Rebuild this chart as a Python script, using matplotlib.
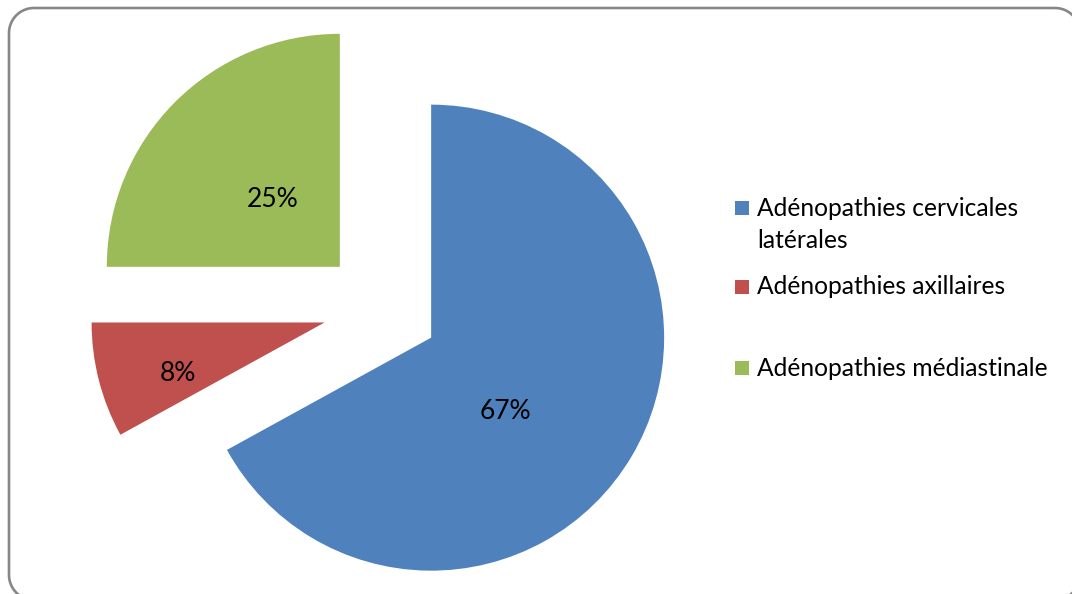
import matplotlib
matplotlib.use("Agg")
import matplotlib.pyplot as plt
from matplotlib.lines import Line2D
from matplotlib.patches import Rectangle
import numpy as np

# Data
categories = ["Adénopathies cervicales\nlatérales",
              "Adénopathies axillaires",
              "Adénopathies médiastinale"]
shares = [67, 8, 25]
colors = ["#4F81BD", "#C0504D", "#9BBB59"]

W, H = 1072, 594
FONT = "Lato"
FS_LEG = 17.7
FS_PCT = 19

fig = plt.figure(figsize=(W / 100, H / 100), dpi=100)
ax = fig.add_axes([0, 0, 1, 1])

# Pie: every slice pulled out by a quarter radius, clockwise from 12 o'clock
cx, cy, R = 381, H - 308, 233
wedges, _, autotexts = ax.pie(
    shares, explode=[0.25 * R] * len(shares), colors=colors,
    startangle=90, counterclock=False, center=(cx, cy), radius=R,
    autopct=lambda p: f"{p:.0f}%",
    wedgeprops=dict(linewidth=0),
    textprops=dict(fontsize=FS_PCT, family=FONT, color="black"),
)

# Percentage labels placed around the common pie centre
label_r = [0.695, 0.916, 0.657]
label_shift = [-9.0, 3.6, 0.0]
for w, t, r, s in zip(wedges, autotexts, label_r, label_shift):
    th = np.deg2rad((w.theta1 + w.theta2) / 2 + s)
    t.set_position((cx + r * R * np.cos(th), cy + r * R * np.sin(th)))
    t.set_ha("center")
    t.set_va("center")

ax.set_xlim(0, W)
ax.set_ylim(0, H)
ax.set_aspect("equal")
ax.axis("off")

# Legend drawn as colour squares with text
leg_x, sq = 735, 14
leg_y = [208, 287, 368]
for lab, col, y in zip(categories, colors, leg_y):
    yy = H - y
    ax.add_patch(Rectangle((leg_x, yy - sq / 2), sq, sq, color=col, lw=0))
    for k, line in enumerate(lab.split("\n")):
        ax.text(leg_x + 22, yy - 32 * k, line, ha="left", va="center",
                fontsize=FS_LEG, family=FONT, color="black")

# Rounded chart border (figure inches), straight edges joined by quarter arcs
x0, x1, y0, y1, rr = 9, 1080, H - 600, H - 8, 25
a = np.linspace(0, np.pi / 2, 24)
xs, ys = [], []
for (ccx, ccy, start) in [(x1 - rr, y1 - rr, 0.0), (x0 + rr, y1 - rr, np.pi / 2),
                          (x0 + rr, y0 + rr, np.pi), (x1 - rr, y0 + rr, 1.5 * np.pi)]:
    xs.extend(ccx + rr * np.cos(start + a))
    ys.extend(ccy + rr * np.sin(start + a))
xs.append(xs[0])
ys.append(ys[0])
fig.add_artist(Line2D(np.array(xs) / 100, np.array(ys) / 100,
                      transform=fig.dpi_scale_trans, color="#878787", lw=1.9,
                      solid_joinstyle="round"))

fig.savefig("out.png", dpi=100)
